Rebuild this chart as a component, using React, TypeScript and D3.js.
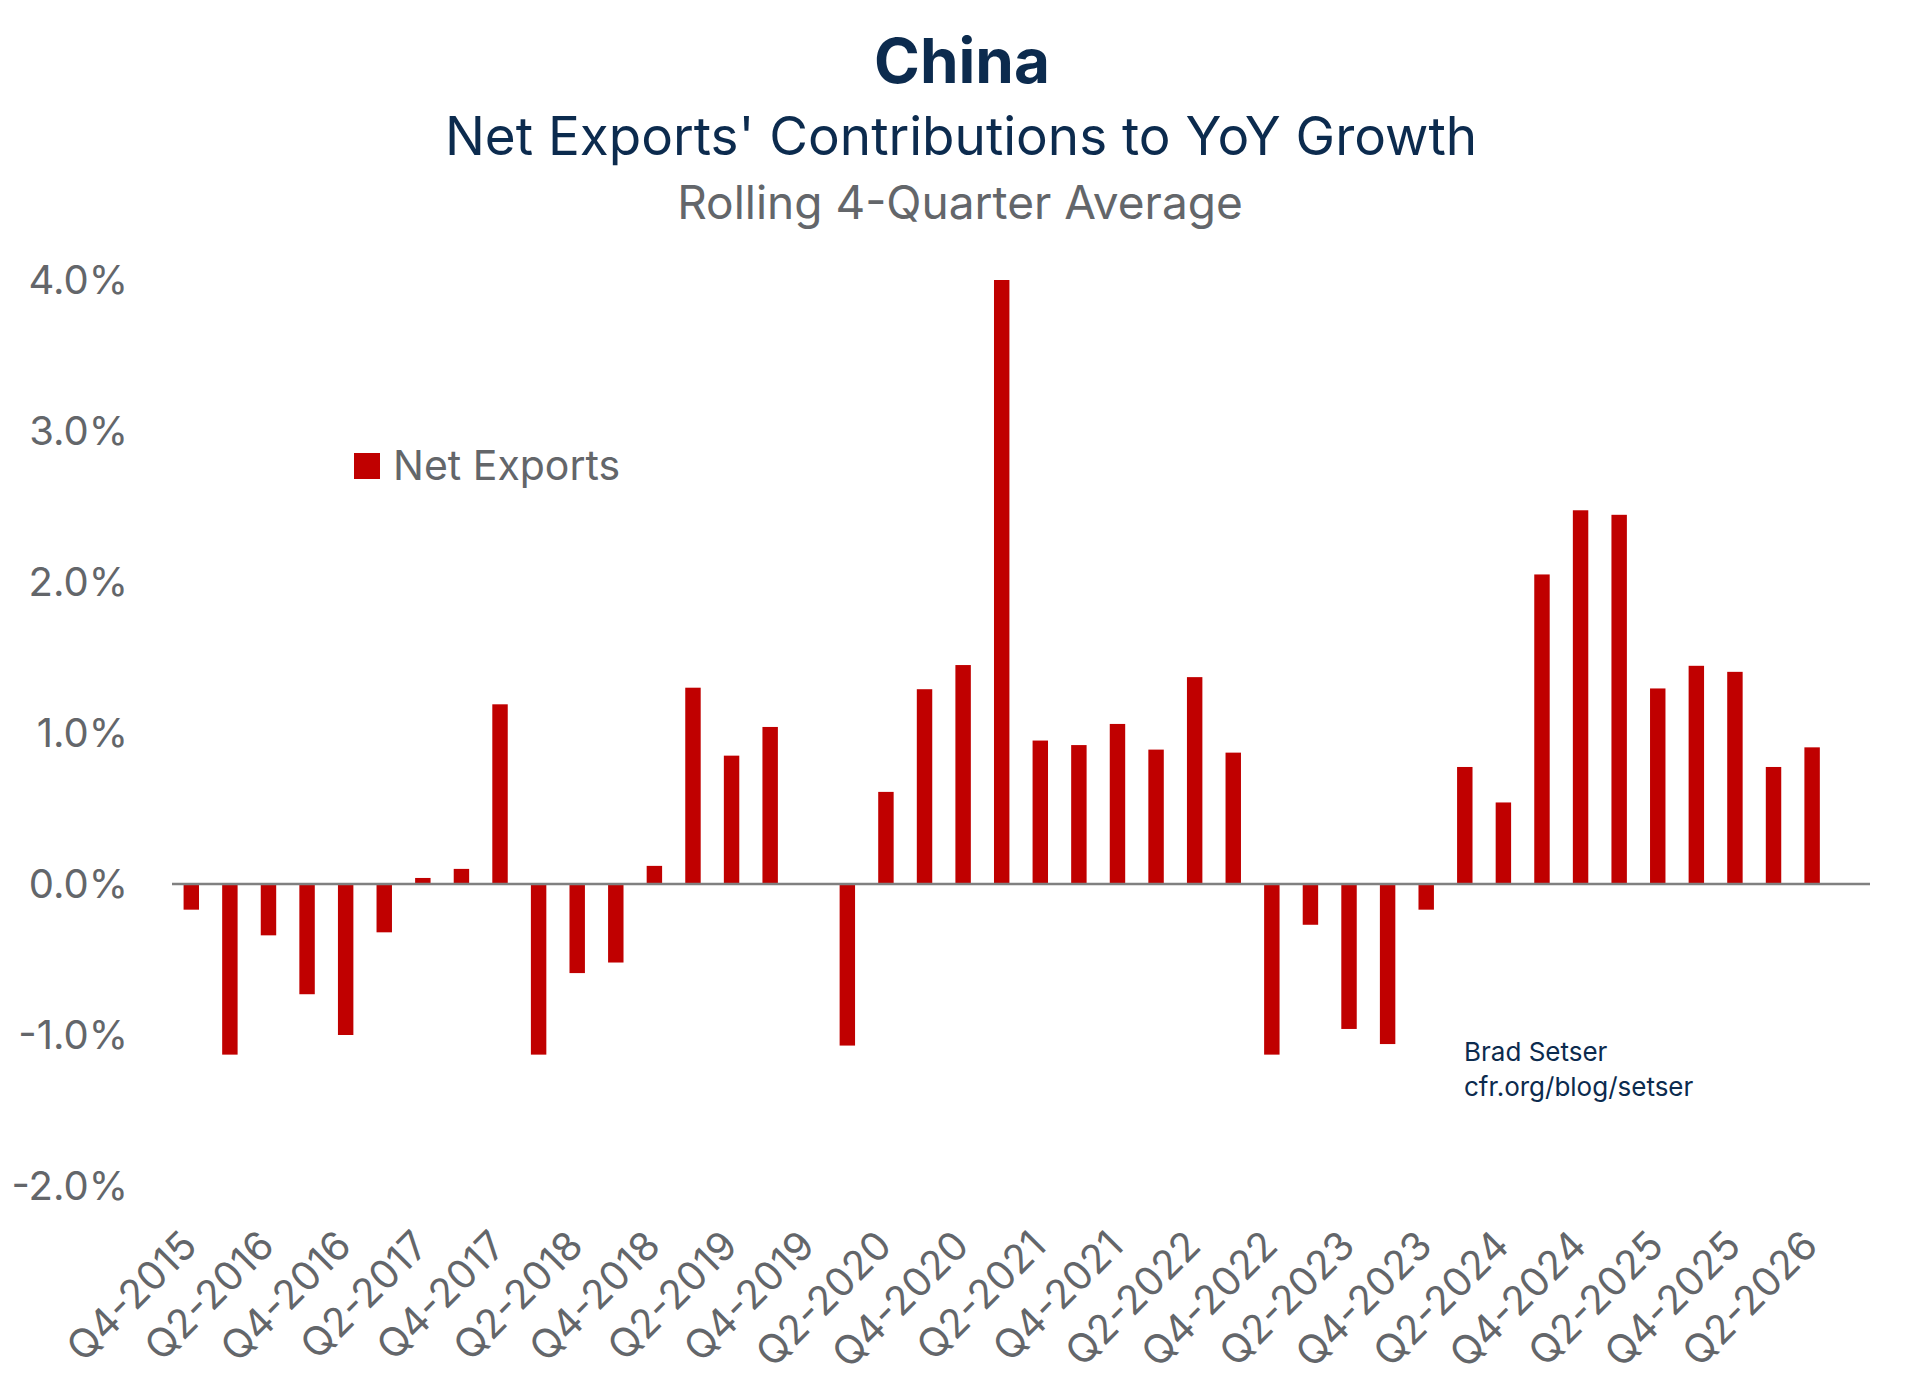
import React, { useEffect, useRef } from 'react'
import * as d3 from 'd3'

const quarters = [
  'Q4-2015', 'Q1-2016', 'Q2-2016', 'Q3-2016', 'Q4-2016', 'Q1-2017', 'Q2-2017', 'Q3-2017',
  'Q4-2017', 'Q1-2018', 'Q2-2018', 'Q3-2018', 'Q4-2018', 'Q1-2019', 'Q2-2019', 'Q3-2019',
  'Q4-2019', 'Q1-2020', 'Q2-2020', 'Q3-2020', 'Q4-2020', 'Q1-2021', 'Q2-2021', 'Q3-2021',
  'Q4-2021', 'Q1-2022', 'Q2-2022', 'Q3-2022', 'Q4-2022', 'Q1-2023', 'Q2-2023', 'Q3-2023',
  'Q4-2023', 'Q1-2024', 'Q2-2024', 'Q3-2024', 'Q4-2024', 'Q1-2025', 'Q2-2025', 'Q3-2025',
  'Q4-2025', 'Q1-2026', 'Q2-2026',
]

// net exports contribution, % (rolling 4-quarter average)
const netExports: (number | null)[] = [
  -0.17, -1.13, -0.34, -0.73, -1.0, -0.32, 0.04, 0.1,
  1.19, -1.13, -0.59, -0.52, 0.12, 1.3, 0.85, 1.04,
  null, -1.07, 0.61, 1.29, 1.45, 4.0, 0.95, 0.92,
  1.06, 0.89, 1.37, 0.87, -1.13, -0.27, -0.96, -1.06,
  -0.17, 0.775, 0.54, 2.05, 2.475, 2.445, 1.295, 1.445,
  1.405, 0.775, 0.905,
]

const yTicks = [-2, -1, 0, 1, 2, 3, 4]

const FONT = 'Inter, "Noto Sans", sans-serif'
const NAVY = '#0c2b4e'
const GRAY = '#63666a'
const RED = '#c00000'

const App: React.FC = () => {
  const ref = useRef<SVGSVGElement>(null)

  useEffect(() => {
    const width = 1920
    const height = 1395
    const left = 172
    const right = 1870

    const svg = d3.select(ref.current).attr('width', width).attr('height', height)
    svg.selectAll('*').remove()

    // one empty slot after the last quarter
    const step = (right - left) / (quarters.length + 1)
    const x = d3
      .scaleBand<string>()
      .domain(quarters)
      .range([left, right - step])
      .paddingInner(0.6)
      .paddingOuter(0.3)

    const y = d3.scaleLinear().domain([-2, 4]).range([1186, 280])

    svg.append('rect').attr('width', width).attr('height', height).attr('fill', '#fff')

    // titles
    const titles = svg.append('g').attr('font-family', FONT).attr('text-anchor', 'middle')
    titles
      .append('text')
      .attr('x', 962)
      .attr('y', 83)
      .attr('font-size', 62)
      .attr('font-weight', 700)
      .attr('fill', NAVY)
      .text('China')
    titles
      .append('text')
      .attr('x', 961)
      .attr('y', 155)
      .attr('font-size', 53)
      .attr('fill', NAVY)
      .text("Net Exports' Contributions to YoY Growth")
    titles
      .append('text')
      .attr('x', 960)
      .attr('y', 219)
      .attr('font-size', 46)
      .attr('fill', GRAY)
      .text('Rolling 4-Quarter Average')

    // y axis labels
    const fmt = (d: number) => d3.format('.1f')(d).replace('\u2212', '-') + '%'
    svg
      .append('g')
      .selectAll('text')
      .data(yTicks)
      .enter()
      .append('text')
      .attr('x', 128)
      .attr('y', (d) => y(d))
      .attr('dy', '0.36em')
      .attr('text-anchor', 'end')
      .attr('font-family', FONT)
      .attr('font-size', 40)
      .attr('fill', GRAY)
      .text(fmt)

    // bars
    const data = quarters.map((q, i) => ({ q, v: netExports[i] }))
    svg
      .append('g')
      .selectAll('rect')
      .data(data.filter((d) => d.v !== null))
      .enter()
      .append('rect')
      .attr('x', (d) => x(d.q)!)
      .attr('width', x.bandwidth())
      .attr('y', (d) => y(Math.max(0, d.v as number)))
      .attr('height', (d) => Math.abs(y(d.v as number) - y(0)))
      .attr('fill', RED)

    // zero line
    svg
      .append('line')
      .attr('x1', left)
      .attr('x2', right)
      .attr('y1', y(0))
      .attr('y2', y(0))
      .attr('stroke', '#808080')
      .attr('stroke-width', 2.7)

    // x labels, every other quarter
    svg
      .append('g')
      .selectAll('text')
      .data(quarters.filter((_, i) => i % 2 === 0))
      .enter()
      .append('text')
      .attr('transform', (d) => `translate(${x(d)! + x.bandwidth() / 2 + 8},1248) rotate(-45)`)
      .attr('text-anchor', 'end')
      .attr('font-family', FONT)
      .attr('font-size', 40)
      .attr('fill', GRAY)
      .text((d) => d)

    // legend
    svg.append('rect').attr('x', 354).attr('y', 453).attr('width', 26).attr('height', 26).attr('fill', RED)
    svg
      .append('text')
      .attr('x', 393)
      .attr('y', 480)
      .attr('font-family', FONT)
      .attr('font-size', 41)
      .attr('fill', GRAY)
      .text('Net Exports')

    // source
    const src = svg.append('g').attr('font-family', FONT).attr('font-size', 26).attr('fill', NAVY)
    src.append('text').attr('x', 1464).attr('y', 1061).text('Brad Setser')
    src.append('text').attr('x', 1464).attr('y', 1096).text('cfr.org/blog/setser')
  }, [])

  return (
    <div style={{ position: 'absolute', top: 0, left: 0 }}>
      <svg ref={ref} style={{ display: 'block' }} />
    </div>
  )
}

export default App
